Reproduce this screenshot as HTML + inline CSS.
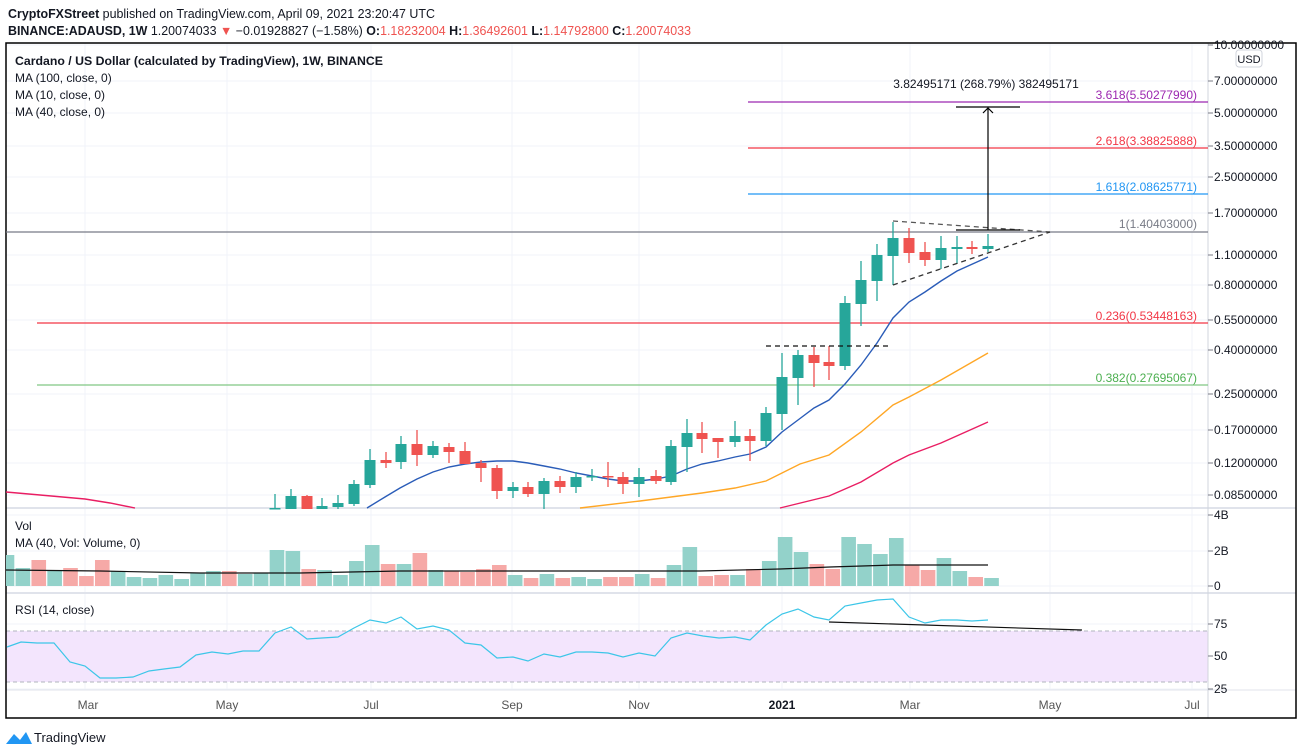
<!DOCTYPE html>
<html><head><meta charset="utf-8">
<style>
html,body{margin:0;padding:0;background:#fff;}
body{width:1301px;height:755px;overflow:hidden;position:relative;font-family:"Liberation Sans",sans-serif;}
svg{position:absolute;left:0;top:0;}
text{font-family:"Liberation Sans",sans-serif;}
</style></head><body>
<svg id="s" width="1301" height="755" xmlns="http://www.w3.org/2000/svg">
<text x="8" y="18" font-size="12.5" fill="#131722" textLength="427" lengthAdjust="spacingAndGlyphs"><tspan font-weight="bold">CryptoFXStreet</tspan> published on TradingView.com, April 09, 2021 23:20:47 UTC</text>
<text x="8" y="35" font-size="12.5" fill="#131722" textLength="683" lengthAdjust="spacingAndGlyphs"><tspan font-weight="bold">BINANCE:ADAUSD, 1W</tspan> 1.20074033 <tspan fill="#ef5350">▼</tspan> −0.01928827 (−1.58%) <tspan font-weight="bold">O:</tspan><tspan fill="#ef5350">1.18232004</tspan> <tspan font-weight="bold">H:</tspan><tspan fill="#ef5350">1.36492601</tspan> <tspan font-weight="bold">L:</tspan><tspan fill="#ef5350">1.14792800</tspan> <tspan font-weight="bold">C:</tspan><tspan fill="#ef5350">1.20074033</tspan></text>
<g id="g"></g>
</svg>
<script>
const NS="http://www.w3.org/2000/svg";const G=document.getElementById('g');
function el(t,a,txt){const e=document.createElementNS(NS,t);for(const k in a)e.setAttribute(k,a[k]);if(txt!==undefined)e.textContent=txt;G.appendChild(e);return e;}
function line(x1,y1,x2,y2,c,w,d){return el('line',{x1,y1,x2,y2,stroke:c,'stroke-width':w||1,'stroke-dasharray':d||''});}
function poly(pts,c,w){el('polyline',{points:pts.map(p=>p.join(',')).join(' '),fill:'none',stroke:c,'stroke-width':w||1.3});}
const AX=1208,L=6,R=1296;
const vx=[85,227,371,512,639,782,910,1050,1192];
vx.forEach(x=>line(x,43,x,690,'#f0f3fa',1));
[45,81,113,146,177,213,255,285,320,350,394,430,463,495].forEach(y=>line(L,y,AX,y,'#f0f3fa',1));
[515,551,586,624,656,689].forEach(y=>line(L,y,AX,y,'#f0f3fa',1));
el('rect',{x:L,y:631,width:AX-L,height:51,fill:'#f3e5fd'});
line(L,631,AX,631,'#b2b5be',1,'4,3');line(L,682,AX,682,'#b2b5be',1,'4,3');
line(L,508,R,508,'#e0e3eb',2);line(L,593,R,593,'#e0e3eb',2);line(L,690,R,690,'#e0e3eb',1);
line(AX,43,AX,718,'#d1d4dc',1);
el('rect',{x:L,y:43,width:R-L,height:675,fill:'none',stroke:'#000','stroke-width':1.5});
line(L,232,AX,232,'#787b86',1.2);
line(37,323,AX,323,'#f23645',1.2);
line(37,385,AX,385,'#81c784',1.2);
line(748,194,AX,194,'#2196f3',1.2);
line(748,148,AX,148,'#f23645',1.2);
line(748,102,AX,102,'#9c27b0',1.2);
function lab(y,t,c){el('text',{x:1197,y:y,'font-size':12,fill:c,'text-anchor':'end'},t);}
lab(228,'1(1.40403000)','#787b86');lab(320,'0.236(0.53448163)','#f23645');lab(382,'0.382(0.27695067)','#4caf50');
lab(191,'1.618(2.08625771)','#2196f3');lab(145,'2.618(3.38825888)','#f23645');lab(99,'3.618(5.50277990)','#9c27b0');
[[45,'10.00000000'],[81,'7.00000000'],[113,'5.00000000'],[146,'3.50000000'],[177,'2.50000000'],[213,'1.70000000'],[255,'1.10000000'],[285,'0.80000000'],[320,'0.55000000'],[350,'0.40000000'],[394,'0.25000000'],[430,'0.17000000'],[463,'0.12000000'],[495,'0.08500000'],[515,'4B'],[551,'2B'],[586,'0'],[624,'75'],[656,'50'],[689,'25']].forEach(([y,t])=>{line(AX,y,AX+5,y,'#787b86',1);el('text',{x:1214,y:y+4,'font-size':12,fill:'#131722'},t);});
el('rect',{x:1236,y:50,width:26,height:17,rx:3,fill:'#fff',stroke:'#d1d4dc'});
el('text',{x:1249,y:63,'font-size':11,fill:'#131722','text-anchor':'middle'},'USD');
[[88,'Mar'],[227,'May'],[371,'Jul'],[512,'Sep'],[639,'Nov'],[910,'Mar'],[1050,'May'],[1192,'Jul']].forEach(([x,t])=>el('text',{x,y:709,'font-size':12,fill:'#555','text-anchor':'middle'},t));
el('text',{x:782,y:709,'font-size':12,'font-weight':'bold',fill:'#131722','text-anchor':'middle'},'2021');
el('text',{x:15,y:65,'font-size':12,'font-weight':'bold',fill:'#131722',textLength:368,lengthAdjust:'spacingAndGlyphs'},'Cardano / US Dollar (calculated by TradingView), 1W, BINANCE');
el('text',{x:15,y:82,'font-size':12,fill:'#131722'},'MA (100, close, 0)');
el('text',{x:15,y:99,'font-size':12,fill:'#131722'},'MA (10, close, 0)');
el('text',{x:15,y:116,'font-size':12,fill:'#131722'},'MA (40, close, 0)');
el('text',{x:15,y:530,'font-size':12,fill:'#131722'},'Vol');
el('text',{x:15,y:547,'font-size':12,fill:'#131722'},'MA (40, Vol: Volume, 0)');
el('text',{x:15,y:614,'font-size':12,fill:'#131722'},'RSI (14, close)');
const vol=[['g',31],['g',18],['r',26],['g',16],['r',18],['r',10],['r',26],['g',15],['g',9],['g',8],['g',11],['g',7],['g',13],['g',15],['r',15],['g',12],['g',13],['g',36],['g',35],['r',17],['g',16],['g',11],['g',25],['g',41],['r',22],['g',22],['r',33],['g',16],['r',15],['r',14],['r',17],['r',21],['g',11],['r',8],['g',12],['r',8],['g',9],['g',7],['r',9],['r',9],['g',12],['r',8],['g',21],['g',39],['r',10],['r',11],['g',11],['r',17],['g',25],['g',49],['g',34],['r',22],['r',17],['g',49],['g',42],['g',32],['g',48],['r',21],['r',16],['g',28],['g',15],['r',9],['g',8]];
vol.forEach(([c,h],i)=>{const x=7+15.88*i;el('rect',{x:Math.max(L,x-7.3),y:586-h,width:14.6-(x-7.3<L?L-(x-7.3):0),height:h,fill:c=='g'?'#93d2ca':'#f6a9a7'});});
poly([[L,570],[100,571],[200,573],[300,573],[400,571],[600,571],[700,571],[780,569],[830,567],[893,565],[988,565]],'#111',1.2);
poly([[7,647],[21,642],[37,643],[54,643],[70,662],[85,666],[100,678],[116,678],[133,677],[149,671],[164,669],[180,667],[196,655],[212,652],[228,654],[243,651],[259,651],[275,633],[291,627],[307,639],[322,638],[338,637],[354,628],[370,620],[386,623],[401,617],[417,629],[433,626],[449,630],[465,643],[481,645],[497,658],[513,657],[528,661],[544,654],[560,657],[576,652],[592,652],[608,653],[623,657],[639,653],[655,656],[671,638],[687,633],[703,636],[719,638],[735,637],[750,640],[766,625],[782,614],[798,609],[814,617],[829,620],[845,606],[861,603],[877,600],[893,599],[909,617],[925,623],[941,620],[957,620],[972,621],[988,620]],'#3cc6e8',1.2);
line(829,622,1082,630,'#111',1.2);
poly([[L,492],[40,495],[85,499],[110,503],[135,508]],'#e91e63',1.4);
poly([[780,508],[829,496],[861,482],[893,463],[909,455],[941,443],[988,422]],'#e91e63',1.4);
poly([[580,508],[640,501],[671,497],[702,493],[735,488],[766,481],[782,473],[800,464],[829,455],[861,432],[893,405],[909,397],[941,380],[988,353]],'#ffa726',1.4);
poly([[367,508],[385,497],[400,488],[417,479],[433,472],[449,467],[465,464],[481,462],[497,461],[513,461],[528,463],[544,466],[560,469],[576,473],[592,476],[608,479],[623,481],[639,481],[656,479],[671,476],[687,469],[702,464],[718,461],[735,457],[750,454],[766,447],[782,432],[798,420],[814,408],[829,400],[845,384],[861,365],[877,343],[893,318],[909,302],[925,292],[941,281],[957,271],[988,257]],'#2a5cb8',1.4);
const C=[[275,'g',508,508,494,508],[291,'g',496,509,489,509],[307,'r',496,509,495,509],[322,'g',506,509,498,509],[338,'g',503,507,495,509],[354,'g',484,504,480,506],[370,'g',460,485,449,488],[386,'r',460,463,452,468],[401,'g',444,462,436,469],[417,'r',444,455,430,466],[433,'g',446,455,441,458],[449,'r',447,452,443,463],[465,'r',451,464,442,464],[481,'r',463,468,460,482],[497,'r',468,491,465,499],[513,'g',487,491,482,498],[528,'r',487,494,482,497],[544,'g',481,494,478,509],[560,'r',481,487,476,493],[576,'g',477,487,472,493],[592,'g',476,477,469,481],[608,'r',476,477,462,487],[623,'r',477,484,472,494],[639,'g',477,484,468,497],[656,'r',476,481,470,484],[671,'g',446,482,440,485],[687,'g',433,447,419,472],[702,'r',433,439,422,453],[718,'r',438,442,438,458],[735,'g',436,442,421,447],[750,'r',436,441,429,461],[766,'g',413,441,407,446],[782,'g',377,414,353,430],[798,'g',355,378,350,405],[814,'r',355,363,347,387],[829,'r',362,366,346,380],[845,'g',303,366,296,370],[861,'g',280,304,261,326],[877,'g',255,281,244,301],[893,'g',238,256,222,285],[909,'r',238,253,228,263],[925,'r',252,260,242,266],[941,'g',248,260,236,269],[957,'g',247,249,236,264],[972,'r',247,249,241,254],[988,'g',246,249,234,252]];
C.forEach(([x,c,bt,bb,wt,wb])=>{const col=c=='g'?'#26a69a':'#ef5350';line(x,wt,x,wb,col,1.3);el('rect',{x:x-5.5,y:bt,width:11,height:Math.max(1.5,bb-bt),fill:col});});
line(766,346,892,346,'#111',1.3,'5,4');
line(893,221,1050,232,'#555',1.3,'5,4');
line(893,285,1050,232,'#333',1.3,'5,4');
line(956,230,1020,230,'#000',1.2);
line(956,107,1020,107,'#000',1.2);
line(988,230,988,108,'#000',1.2);
poly([[983,113],[988,108],[993,113]],'#000',1.2);
el('text',{x:986,y:88,'font-size':12,fill:'#131722','text-anchor':'middle'},'3.82495171 (268.79%) 382495171');
el('path',{d:'M6,744 L14,734 L20,740 L26,732 L32,744 Z',fill:'#2196f3'});
el('text',{x:34,y:742,'font-size':13,fill:'#131722'},'TradingView');
</script>
</body></html>
